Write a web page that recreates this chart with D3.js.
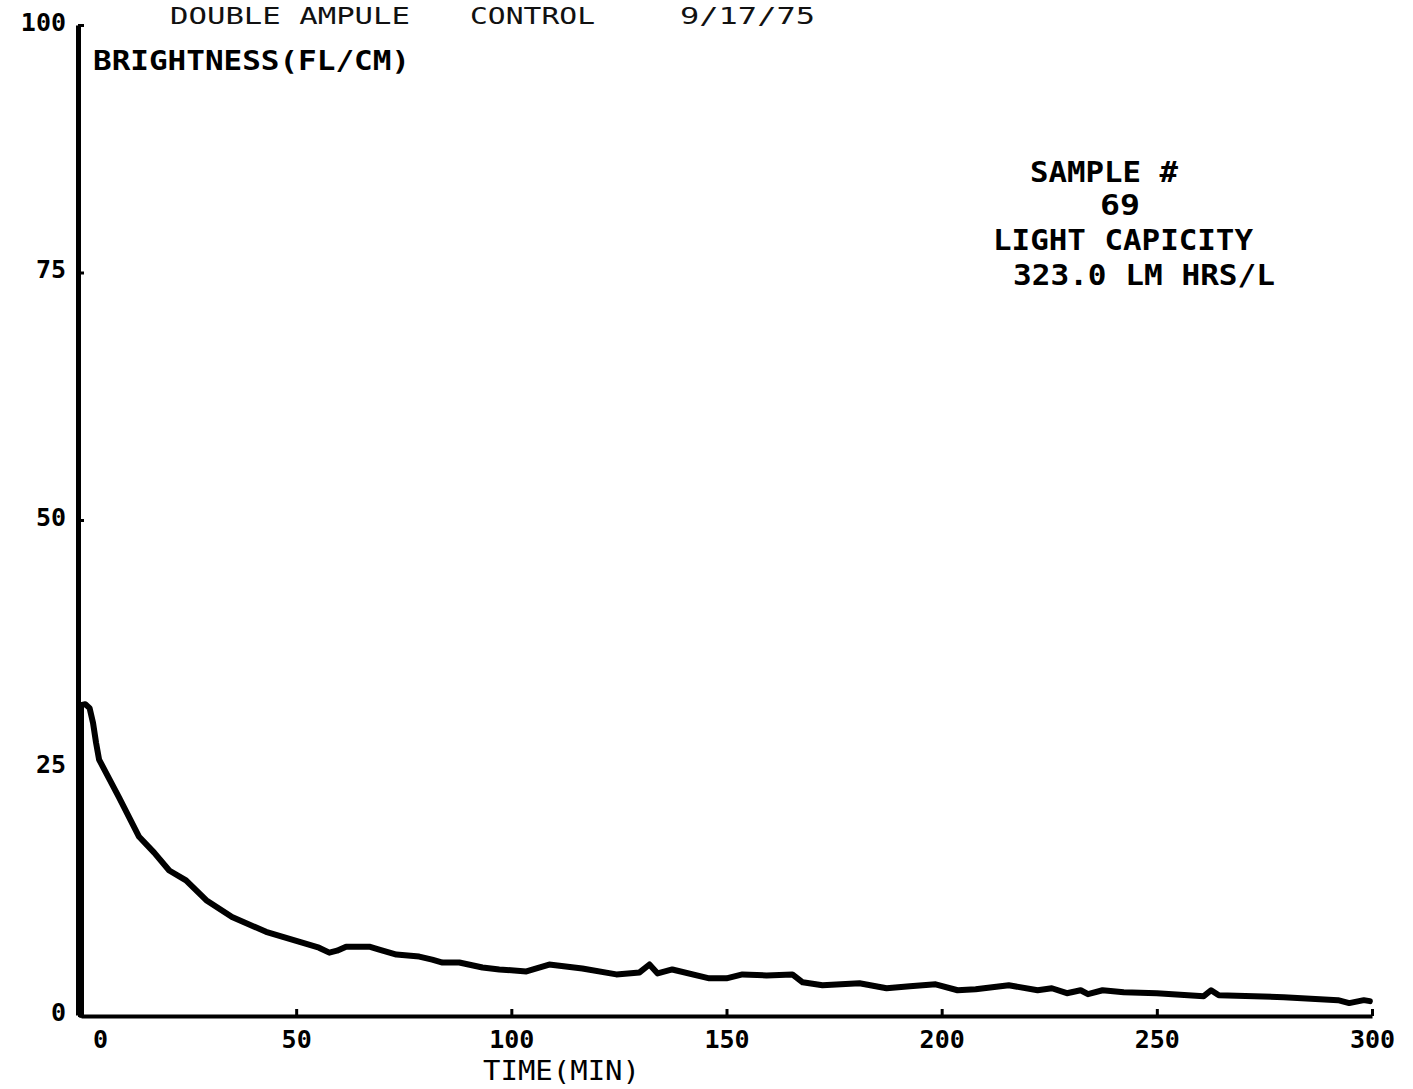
<!DOCTYPE html>
<html>
<head>
<meta charset="utf-8">
<script src="https://cdn.jsdelivr.net/npm/d3@7"></script>
<style>
  html, body { margin: 0; padding: 0; background: #ffffff; }
  svg { display: block; }
</style>
</head>
<body>
<svg id="chart" width="1413" height="1089"></svg>
<script>
// ---- data ----
const timeMin = [0, 0, 1, 2, 2.8, 3.5, 4.2, 6.5, 8.8, 13.5,
  17, 20.5, 24.4, 29.1, 35.1, 43, 51.4, 55.3, 57.7, 59.5,
  61.6, 67, 69.3, 73.3, 78.6, 81.6, 84, 87.9, 93.3, 97.2,
  103.5, 108.8, 116.5, 124.4, 129.8, 132.1, 134, 137.4, 146, 150,
  153.7, 159.3, 165.3, 167.7, 172.3, 180.9, 187.2, 192.6, 198.6, 203.7,
  207.9, 215.6, 222.3, 225.6, 229.1, 232.3, 234, 237.4, 242.3, 250,
  260.9, 262.6, 264.4, 279.5, 292.1, 294.7, 298.1, 299.5];
const brightness = [0, 31.3, 31.4, 31, 29.5, 27.5, 25.8, 23.9, 22.0, 18.0,
  16.4, 14.6, 13.6, 11.6, 9.9, 8.4, 7.3, 6.8, 6.3, 6.5,
  6.9, 6.9, 6.6, 6.1, 5.9, 5.6, 5.3, 5.3, 4.8, 4.6,
  4.4, 5.1, 4.7, 4.1, 4.3, 5.1, 4.2, 4.6, 3.7, 3.7,
  4.1, 4.0, 4.1, 3.3, 3.0, 3.2, 2.7, 2.9, 3.1, 2.5,
  2.6, 3.0, 2.5, 2.7, 2.2, 2.5, 2.1, 2.5, 2.3, 2.2,
  1.9, 2.5, 2.0, 1.8, 1.5, 1.2, 1.5, 1.4];
const xTicks = [0, 50, 100, 150, 200, 250, 300];
const yTicks = [0, 25, 50, 75, 100];
const titleParts = ["DOUBLE AMPULE", "CONTROL", "9/17/75"];
const yAxisTitle = "BRIGHTNESS(FL/CM)";
const xAxisTitle = "TIME(MIN)";
const noteLines = ["SAMPLE #", "69", "LIGHT CAPICITY", "323.0 LM HRS/L"];

// ---- drawing ----
const svg = d3.select("#chart");
const FONT = "'DejaVu Sans Mono', 'Liberation Mono', monospace";

const x = d3.scaleLinear().domain([0, 300]).range([81, 1372]);
const y = d3.scaleLinear().domain([0, 100]).range([1015, 25]);

// title at the very top
const titleX = [170, 470, 680];
const titleW = [240, 125, 135];
svg.selectAll("text.title").data(titleParts).enter().append("text")
  .attr("class", "title")
  .attr("x", (d, i) => titleX[i])
  .attr("y", 24)
  .attr("textLength", (d, i) => titleW[i])
  .attr("lengthAdjust", "spacingAndGlyphs")
  .style("font-family", FONT)
  .style("font-size", "23px")
  .style("fill", "#111")
  .text(d => d);

// curve
const pts = timeMin.map((t, i) => [t, brightness[i]]);
svg.append("path")
  .datum(pts)
  .attr("d", d3.line().x(d => x(d[0])).y(d => y(d[1])))
  .attr("fill", "none")
  .attr("stroke", "#000")
  .attr("stroke-width", 6)
  .attr("stroke-linejoin", "round")
  .attr("stroke-linecap", "round");

// y axis
const gy = svg.append("g")
  .attr("transform", `translate(${x(0) - 3},0)`)
  .call(d3.axisLeft(y).tickValues(yTicks).tickSize(-6).tickPadding(12).tickSizeOuter(0));
gy.select(".domain").attr("stroke", "#000").attr("stroke-width", 5);
gy.selectAll(".tick line").attr("stroke", "#000").attr("stroke-width", 3);
gy.selectAll(".tick text")
  .attr("dy", "0.2em")
  .style("font-family", FONT).style("font-size", "25px").style("font-weight", "bold").style("fill", "#000");

// x axis
const gx = svg.append("g")
  .attr("transform", `translate(0,${y(0) + 1})`)
  .call(d3.axisBottom(x).tickValues(xTicks).tickSize(-7).tickPadding(14).tickSizeOuter(0));
gx.select(".domain").attr("stroke", "#000").attr("stroke-width", 4);
gx.selectAll(".tick line").attr("stroke", "#000").attr("stroke-width", 3);
gx.selectAll(".tick text")
  .attr("dx", d => d === 0 ? 19 : 0)
  .style("font-family", FONT).style("font-size", "25px").style("font-weight", "bold").style("fill", "#000");

// axis titles
svg.append("text")
  .attr("x", 93).attr("y", 70)
  .attr("textLength", 317).attr("lengthAdjust", "spacingAndGlyphs")
  .style("font-family", FONT).style("font-size", "27px").style("font-weight", "bold")
  .text(yAxisTitle);
svg.append("text")
  .attr("x", 483).attr("y", 1080)
  .attr("textLength", 157).attr("lengthAdjust", "spacingAndGlyphs")
  .style("font-family", FONT).style("font-size", "27px")
  .text(xAxisTitle);

// annotation block
const noteX = [1030, 1100, 993, 1013];
const noteY = [182, 215, 250, 285];
const noteW = [148, 40, 260, 262];
svg.selectAll("text.note").data(noteLines).enter().append("text")
  .attr("class", "note")
  .attr("x", (d, i) => noteX[i])
  .attr("y", (d, i) => noteY[i])
  .attr("textLength", (d, i) => noteW[i])
  .attr("lengthAdjust", "spacingAndGlyphs")
  .style("font-family", FONT).style("font-size", "28px").style("font-weight", "bold")
  .text(d => d);
</script>
</body>
</html>
